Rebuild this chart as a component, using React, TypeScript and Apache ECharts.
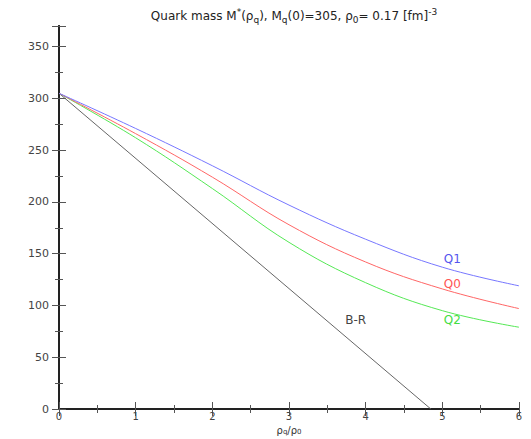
import React, { useEffect, useRef } from "react";
import * as echarts from "echarts";

const xValues = [0, 1, 2, 3, 4, 5, 6];
const q1Values = [305, 271, 235, 197, 164, 137, 119];
const q0Values = [305, 266, 224, 178, 142, 116, 97];
const q2Values = [305, 262, 213, 161, 122, 95, 79];
const brX = [0, 4.85];
const brValues = [305, 0];

const labelQ1 = [5.13, 145];
const labelQ0 = [5.13, 121];
const labelQ2 = [5.13, 85.5];
const labelBR = [3.87, 85.5];

const pair = (xs: number[], ys: number[]) => xs.map((x, i) => [x, ys[i]]);

const FONT = "DejaVu Sans, sans-serif";

export default function App() {
  const ref = useRef<HTMLDivElement>(null);
  useEffect(() => {
    const chart = echarts.init(ref.current!, null, { renderer: "svg" });
    const axisLineStyle = { color: "#222", width: 2 };
    const tickStyle = { color: "#555", width: 1 };
    const mk = (coord: number[], text: string, color: string) => ({
      coord,
      symbolSize: 0,
      label: {
        show: true,
        formatter: text,
        color,
        fontSize: 12,
        fontFamily: FONT,
        position: "inside",
      },
    });
    chart.setOption({
      animation: false,
      backgroundColor: "#fff",
      title: {
        text: "Quark mass M{sup|*}(ρ{sub|q}), M{sub|q}(0)=305, ρ{sub|0}= 0.17 [fm]{sup|-3}",
        left: 289,
        textAlign: "center",
        top: 2,
        textStyle: {
          fontSize: 12,
          fontWeight: "normal",
          color: "#222",
          fontFamily: FONT,
          lineHeight: 17,
          rich: {
            sub: { fontSize: 9, verticalAlign: "bottom", lineHeight: 17, color: "#222", fontFamily: FONT },
            sup: { fontSize: 9, verticalAlign: "top", lineHeight: 17, color: "#222", fontFamily: FONT },
          },
        },
      },
      grid: { left: 59, right: 12, top: 26, bottom: 30, outerBoundsMode: "none", containLabel: false },
      xAxis: [
        {
          type: "value",
          min: 0,
          max: 6,
          interval: 1,
          name: "ρ{sub|q}/ρ{sub|0}",
          nameLocation: "middle",
          nameGap: 12,
          nameTextStyle: {
            fontSize: 10,
            color: "#333",
            fontFamily: FONT,
            lineHeight: 10,
            verticalAlign: "top",
            rich: { sub: { fontSize: 7, verticalAlign: "bottom", lineHeight: 10, color: "#333", fontFamily: FONT } },
          },
          axisLine: { show: true, lineStyle: axisLineStyle },
          axisTick: { show: true, inside: true, length: 7, lineStyle: tickStyle },
          minorTick: { show: true, splitNumber: 2, length: 4, lineStyle: tickStyle },
          axisLabel: { fontSize: 10, color: "#444", fontFamily: FONT, margin: 2 },
          splitLine: { show: false },
        },
        {
          type: "value",
          position: "top",
          min: 0,
          max: 6,
          interval: 1,
          axisLine: { show: true, lineStyle: axisLineStyle },
          axisTick: { show: true, inside: true, length: 7, lineStyle: tickStyle },
          minorTick: { show: true, splitNumber: 2, length: 4, lineStyle: tickStyle },
          axisLabel: { show: false },
          splitLine: { show: false },
        },
      ],
      yAxis: [
        {
          type: "value",
          min: 0,
          max: 370,
          interval: 50,
          axisLine: { show: true, lineStyle: axisLineStyle },
          axisTick: { show: true, inside: true, length: 7, lineStyle: tickStyle },
          minorTick: { show: true, splitNumber: 2, length: 4, lineStyle: tickStyle },
          axisLabel: {
            fontSize: 11,
            color: "#444",
            fontFamily: FONT,
            margin: 10,
            showMaxLabel: false,
            formatter: (v: number) => (v % 50 === 0 ? String(v) : ""),
          },
          splitLine: { show: false },
        },
        {
          type: "value",
          position: "right",
          min: 0,
          max: 370,
          interval: 50,
          axisLine: { show: true, lineStyle: axisLineStyle },
          axisTick: { show: true, inside: true, length: 7, lineStyle: tickStyle },
          minorTick: { show: true, splitNumber: 2, length: 4, lineStyle: tickStyle },
          axisLabel: { show: false },
          splitLine: { show: false },
        },
      ],
      series: [
        {
          name: "B-R",
          type: "line",
          data: pair(brX, brValues),
          symbol: "none",
          lineStyle: { color: "#666", width: 1 },
          markPoint: { symbol: "circle", data: [mk(labelBR, "B-R", "#444")] },
        },
        {
          name: "Q2",
          type: "line",
          data: pair(xValues, q2Values),
          smooth: 0.4,
          symbol: "none",
          lineStyle: { color: "#55e855", width: 1 },
          markPoint: { symbol: "circle", data: [mk(labelQ2, "Q2", "#44dd44")] },
        },
        {
          name: "Q0",
          type: "line",
          data: pair(xValues, q0Values),
          smooth: 0.4,
          symbol: "none",
          lineStyle: { color: "#ff6666", width: 1 },
          markPoint: { symbol: "circle", data: [mk(labelQ0, "Q0", "#ff5555")] },
        },
        {
          name: "Q1",
          type: "line",
          data: pair(xValues, q1Values),
          smooth: 0.4,
          symbol: "none",
          lineStyle: { color: "#7777ff", width: 1 },
          markPoint: { symbol: "circle", data: [mk(labelQ1, "Q1", "#5555ee")] },
        },
      ],
    });
    return () => chart.dispose();
  }, []);
  return <div ref={ref} style={{ width: 531, height: 439, position: "absolute", left: 0, top: 0 }} />;
}
